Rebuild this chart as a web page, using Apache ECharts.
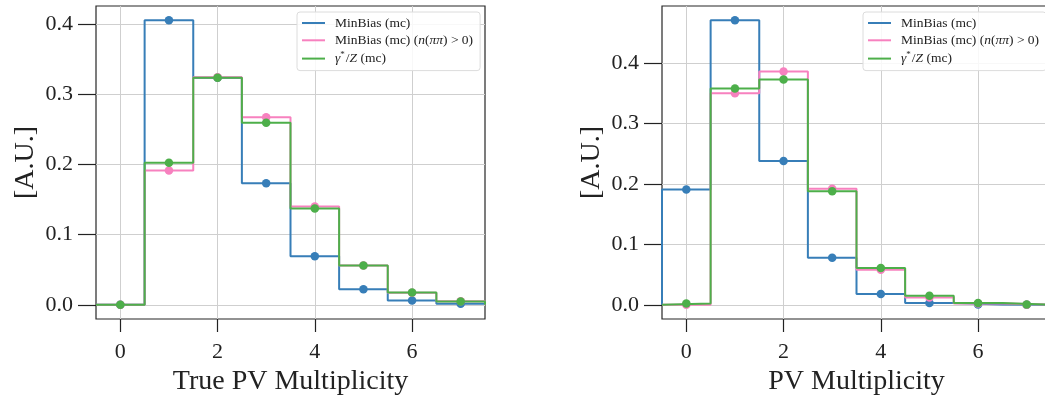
<!DOCTYPE html>
<html>
<head>
<meta charset="utf-8">
<script src="https://cdn.jsdelivr.net/npm/echarts@6/dist/echarts.min.js"></script>
<style>
    html, body {margin:0; padding:0; background:#fff;}
    #histChart {width:1045px; height:397px;}
</style>
</head>
<body>
<div id="histChart"></div>
<script>
// multiplicity bins (bin centres)
var bins = [0, 1, 2, 3, 4, 5, 6, 7];
var xTicks = [0, 2, 4, 6];
var yTicks = [0, 0.1, 0.2, 0.3, 0.4];
var names = ['MinBias (mc)', 'MinBias (mc) (n(ππ) > 0)', 'γ*/Z (mc)'];

// left : true PV multiplicity
var trueMinBias = [0, 0.405, 0.323, 0.173, 0.069, 0.022, 0.006, 0.0015];
var truePiPi    = [0, 0.191, 0.324, 0.267, 0.140, 0.056, 0.017, 0.005];
var trueZ       = [0, 0.202, 0.323, 0.259, 0.137, 0.056, 0.0175, 0.0048];

// right : reconstructed PV multiplicity
var recoMinBias = [0.191, 0.471, 0.238, 0.078, 0.018, 0.003, 0.0005, 0.0001];
var recoPiPi    = [0, 0.350, 0.386, 0.192, 0.058, 0.012, 0.002, 0.0002];
var recoZ       = [0.002, 0.358, 0.373, 0.188, 0.061, 0.015, 0.003, 0.0003];

var colors = ['#377eb8', '#f781bf', '#4daf4a'];
var FONT = '"Liberation Serif", "DejaVu Serif", serif';

var histObj = {
    myChart : echarts.init(document.getElementById('histChart')),
    option : null,
    init : function(){
        var that = this;
        that.render();
    },
    // histogram step outline: starts and ends on zero at the outer bin edges
    stepData : function(vals){
        var arr = [[bins[0] - 0.5, 0]];
        for(var i = 0; i < bins.length; i++){
            arr.push([bins[i] - 0.5, vals[i]]);
        }
        var last = bins[bins.length - 1] + 0.5;
        arr.push([last, vals[vals.length - 1]]);
        arr.push([last, 0]);
        return arr;
    },
    pointData : function(vals){
        return bins.map(function(b, i){ return [b, vals[i]]; });
    },
    xAxis : function(idx, name){
        return {
            type : 'value',
            gridIndex : idx,
            min : -0.5,
            max : 7.5,
            name : name,
            nameLocation : 'middle',
            nameGap : 41,
            nameTextStyle : {fontFamily : FONT, fontSize : 28, color : '#222'},
            axisLine : {show : false, onZero : false},
            axisTick : {show : true, length : 13, customValues : xTicks,
                lineStyle : {color : '#222', width : 1.2}},
            axisLabel : {customValues : xTicks, margin : 22,
                fontFamily : FONT, fontSize : 22, color : '#222'},
            splitLine : {show : true, lineStyle : {color : '#cfcfcf', width : 1}}
        };
    },
    yAxis : function(idx, max){
        return {
            type : 'value',
            gridIndex : idx,
            min : -max / 1.05 * 0.05,
            max : max,
            name : '[A.U.]',
            nameLocation : 'middle',
            nameRotate : 90,
            nameGap : 56,
            nameTextStyle : {fontFamily : FONT, fontSize : 28, color : '#222'},
            axisLine : {show : false, onZero : false},
            axisTick : {show : true, length : 18, customValues : yTicks,
                lineStyle : {color : '#222', width : 1.2}},
            axisLabel : {customValues : yTicks, margin : 23,
                fontFamily : FONT, fontSize : 22, color : '#222',
                formatter : function(v){ return v.toFixed(1); }},
            splitLine : {show : true, lineStyle : {color : '#cfcfcf', width : 1}}
        };
    },
    legend : function(left){
        return {
            show : true,
            data : names,
            orient : 'vertical',
            left : left,
            top : 12,
            z : 20,
            icon : 'rect',
            itemWidth : 23,
            itemHeight : 2,
            itemGap : 3.3,
            padding : [4, 7, 5, 5],
            backgroundColor : 'rgba(255,255,255,0.85)',
            borderColor : '#dcdcdc',
            borderWidth : 1,
            borderRadius : 3,
            selectedMode : false,
            formatter : function(name){
                if(name == names[1]){
                    return '{r|MinBias (mc) (}{i|n}{r|(}{i|ππ}{r|) > 0)}';
                }
                if(name == names[2]){
                    return '{i|γ}{sup|*}{r|/}{i|Z}{r| (mc)}';
                }
                return '{r|' + name + '}';
            },
            textStyle : {
                padding : [0, 0, 0, 5],
                rich : {
                    r : {fontFamily : FONT, fontSize : 13.5, color : '#222', lineHeight : 15},
                    i : {fontFamily : FONT, fontSize : 13.5, fontStyle : 'italic', color : '#222', lineHeight : 15},
                    sup : {fontFamily : FONT, fontSize : 9, color : '#222', padding : [0, 1, 7, 0]}
                }
            }
        };
    },
    render : function(){
        var that = this;
        var sets = [
            [trueMinBias, truePiPi, trueZ],
            [recoMinBias, recoPiPi, recoZ]
        ];
        var series = [];
        sets.forEach(function(set, g){
            set.forEach(function(vals, k){
                series.push({
                    name : names[k],
                    type : 'line',
                    step : 'end',
                    xAxisIndex : g,
                    yAxisIndex : g,
                    showSymbol : false,
                    z : 2 + k * 2,
                    silent : true,
                    lineStyle : {color : colors[k], width : 2},
                    itemStyle : {color : colors[k]},
                    data : that.stepData(vals)
                });
                series.push({
                    name : names[k] + ' pts',
                    type : 'scatter',
                    xAxisIndex : g,
                    yAxisIndex : g,
                    symbolSize : 8.5,
                    z : 3 + k * 2,
                    silent : true,
                    itemStyle : {color : colors[k], opacity : 1},
                    data : that.pointData(vals)
                });
            });
        });
        that.option = {
            animation : false,
            color : colors,
            grid : [
                {left : 96, top : 6, width : 389, height : 313, show : true, outerBoundsMode : 'none',
                    borderColor : '#262626', borderWidth : 1.2, backgroundColor : '#fff'},
                {left : 662, top : 6, width : 389, height : 313, show : true, outerBoundsMode : 'none',
                    borderColor : '#262626', borderWidth : 1.2, backgroundColor : '#fff'}
            ],
            legend : [that.legend(297), that.legend(863)],
            xAxis : [that.xAxis(0, 'True PV Multiplicity'), that.xAxis(1, 'PV Multiplicity')],
            yAxis : [that.yAxis(0, 0.4253), that.yAxis(1, 0.4946)],
            series : series
        };
        that.myChart.setOption(that.option);
    }
};
histObj.init();

window.onresize = function(){
    histObj.myChart.resize();
};
</script>
</body>
</html>
